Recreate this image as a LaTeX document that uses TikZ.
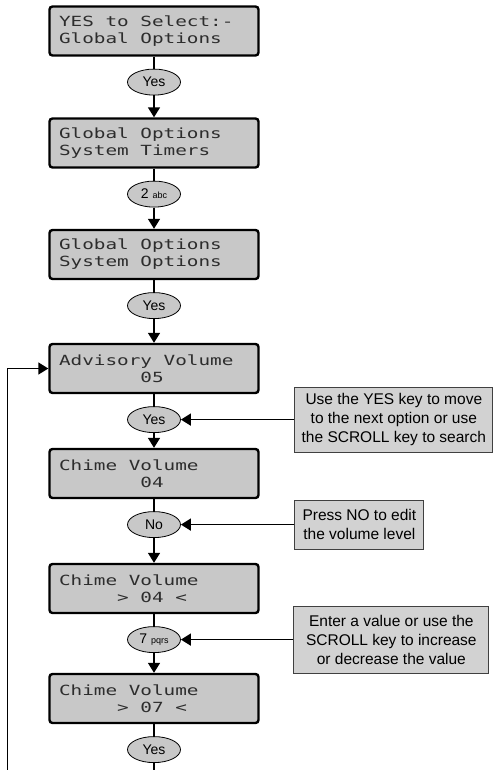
\documentclass[tikz,border=0pt]{standalone}
\usepackage{fontspec}
\setsansfont{Liberation Sans}
\newfontfamily\lcdfont[FakeStretch=1.38]{DejaVu Sans Mono}
\newcommand\lcdgap{\hphantom{0}}
\usetikzlibrary{positioning,arrows.meta,shapes.geometric}
\definecolor{lcdgray}{RGB}{200,200,200}
\definecolor{notegray}{RGB}{210,210,210}
\definecolor{lcdtext}{RGB}{45,45,45}
\begin{document}
\begin{tikzpicture}[x=1pt,y=-1pt,
  every node/.style={font=\sffamily\fontsize{14}{17}\selectfont},
  lcd/.style={rectangle,draw,line width=2.4pt,rounded corners=3pt,fill=lcdgray,minimum width=209pt,minimum height=49pt,text width=190pt,inner xsep=9pt,align=left,text=lcdtext,font=\lcdfont\fontsize{14}{17}\selectfont},
  key/.style={ellipse,draw,line width=0.8pt,fill=lcdgray,minimum width=53pt,minimum height=26pt,inner sep=0pt},
  note/.style={rectangle,draw=black!75,line width=0.9pt,fill=notegray,align=center,inner xsep=6pt,font=\sffamily\fontsize{15.5}{19}\selectfont},
  link/.style={line width=1.6pt},
  arr/.style={line width=1.6pt,-{Triangle[length=10pt,width=12pt]}}
]
\useasboundingbox (0,0) rectangle (493,770);
\node[lcd] (selglobal) at (154,31) {YES\lcdgap to\lcdgap Select:-\\Global\lcdgap Options};
\node[key, below=12pt of selglobal] (yesglobal) {Yes};
\node[lcd] (systimers) at (154,143) {Global\lcdgap Options\\System\lcdgap Timers};
\node[key, below=12pt of systimers] (keytwo) {2 {\fontsize{9}{9}\selectfont abc}};
\node[lcd] (sysopts) at (154,254.5) {Global\lcdgap Options\\System\lcdgap Options};
\node[key, below=12pt of sysopts] (yessysopts) {Yes};
\node[lcd] (advvol) at (154,368.5) {Advisory\lcdgap Volume\\\phantom{0000000}05};
\node[key, below=12pt of advvol] (yesadv) {Yes};
\node[lcd] (chimevol) at (154,473.5) {Chime\lcdgap Volume\\\phantom{0000000}04};
\node[key, below=12pt of chimevol] (nochime) {No};
\node[lcd] (chimeedit) at (154,588.5) {Chime\lcdgap Volume\\\phantom{00000}>\lcdgap 04\lcdgap <};
\node[key, below=12pt of chimeedit] (keyseven) {7 {\fontsize{9}{9}\selectfont pqrs}};
\node[lcd] (chimenew) at (154,698.5) {Chime\lcdgap Volume\\\phantom{00000}>\lcdgap 07\lcdgap <};
\node[key, below=12pt of chimenew] (yeschime) {Yes};

\node[note, right=113.5pt of yesadv, minimum width=198pt, minimum height=65pt] (noteyes) {Use the YES key to move\\to the next option or use\\the SCROLL key to search};
\node[note, right=113.5pt of nochime, minimum width=129pt, minimum height=49pt] (noteno) {Press NO to edit\\the volume level};
\node[note, right=112.5pt of keyseven, minimum width=195pt, minimum height=67pt] (notescroll) {Enter a value or use the\\SCROLL key to increase\\or decrease the value};

\coordinate (loopfoot) at (7.5,770);
\coordinate (flowend) at (154,770);

\draw[link] (selglobal) -- (yesglobal);
\draw[arr] (yesglobal) -- (systimers);
\draw[link] (systimers) -- (keytwo);
\draw[arr] (keytwo) -- (sysopts);
\draw[link] (sysopts) -- (yessysopts);
\draw[arr] (yessysopts) -- (advvol);
\draw[link] (advvol) -- (yesadv);
\draw[arr] (yesadv) -- (chimevol);
\draw[link] (chimevol) -- (nochime);
\draw[arr] (nochime) -- (chimeedit);
\draw[link] (chimeedit) -- (keyseven);
\draw[arr] (keyseven) -- (chimenew);
\draw[link] (chimenew) -- (yeschime);
\draw[link] (yeschime) -- (flowend);
\draw[arr] (loopfoot) |- (advvol);
\draw[arr] (noteyes) -- (yesadv);
\draw[arr] (noteno) -- (nochime);
\draw[arr] (notescroll) -- (keyseven);
\end{tikzpicture}
\end{document}
